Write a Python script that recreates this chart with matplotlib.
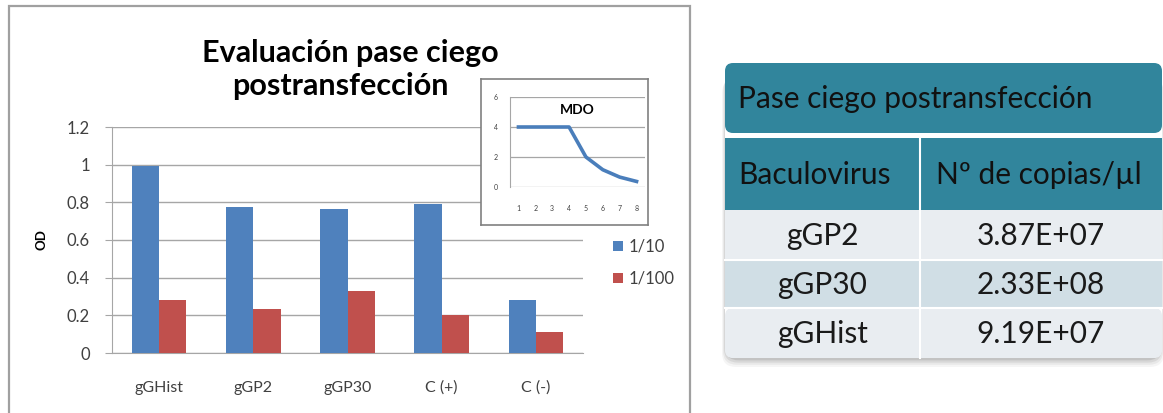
import matplotlib
matplotlib.use("Agg")
import matplotlib.pyplot as plt
import numpy as np
from matplotlib.patches import Rectangle, FancyBboxPatch

plt.rcParams['font.family'] = ['Lato', 'DejaVu Sans']

# ---- data ----
categories = ["gGHist", "gGP2", "gGP30", "C (+)", "C (-)"]
od_1_10 = [0.995, 0.777, 0.763, 0.79, 0.284]
od_1_100 = [0.284, 0.231, 0.329, 0.203, 0.111]

mdo_x = [1, 2, 3, 4, 5, 6, 7, 8]
mdo_y = [4, 4, 4, 4, 2, 1.15, 0.66, 0.37]

title_lines = ["Evaluación pase ciego", "postransfección"]

table_title = "Pase ciego postransfección"
col_headers = ["Baculovirus", "Nº de copias/µl"]
baculovirus = ["gGP2", "gGP30", "gGHist"]
copias = ["3.87E+07", "2.33E+08", "9.19E+07"]

W, H = 1163, 413
fig = plt.figure(figsize=(W / 100, H / 100), dpi=100)


def fbox(x0, y0, x1, y1):
    # pixel box (top-left origin) -> figure fraction rect
    return [x0 / W, 1 - y1 / H, (x1 - x0) / W, (y1 - y0) / H]


""" Main bar chart """
ax = fig.add_axes(fbox(112, 127, 583, 353))
x = np.arange(len(categories))
w = 0.29
b1 = ax.bar(x - w / 2, od_1_10, w, color="#4F81BD", label="1/10", zorder=3)
b2 = ax.bar(x + w / 2, od_1_100, w, color="#C0504D", label="1/100", zorder=3)
ax.set_xlim(-0.5, len(categories) - 0.5)
ax.set_ylim(0, 1.2)
ax.set_yticks([0, 0.2, 0.4, 0.6, 0.8, 1, 1.2])
ax.set_yticklabels(["0", "0.2", "0.4", "0.6", "0.8", "1", "1.2"])
ax.set_xticks(x)
ax.set_xticklabels(categories)
ax.yaxis.grid(True, color="#A6A6A6", linewidth=1.0, zorder=0)
for s in ["top", "right"]:
    ax.spines[s].set_visible(False)
ax.spines["left"].set_color("#A6A6A6")
ax.spines["bottom"].set_color("#A6A6A6")
ax.tick_params(axis="y", length=5, color="#A6A6A6", labelsize=12,
               labelcolor="#404040", pad=11)
ax.tick_params(axis="x", length=0, labelsize=11.5, labelcolor="#404040", pad=20)
ax.set_ylabel("OD", fontsize=9.5, fontweight="bold", labelpad=14)

# title, one text per line
fig.text(350 / W, 1 - 53 / H, title_lines[0], ha="center", va="center",
         fontsize=22, fontweight="bold")
fig.text(340 / W, 1 - 86 / H, title_lines[1], ha="center", va="center",
         fontsize=22, fontweight="bold")

fig.legend(handles=[b1, b2], labels=["1/10", "1/100"], loc="upper left",
           bbox_to_anchor=(598 / W, 1 - 224 / H), frameon=False,
           fontsize=12, handlelength=0.6, handleheight=0.6,
           handletextpad=0.35, labelspacing=0.95, labelcolor="#404040")

""" Inset MDO chart """
box = fig.add_axes(fbox(481, 79, 648, 225))
box.set_xticks([])
box.set_yticks([])
for s in box.spines.values():
    s.set_color("#808080")
    s.set_linewidth(1.2)

ins = fig.add_axes(fbox(510, 97, 645, 187))
ins.plot(mdo_x, mdo_y, color="#4A7EBB", linewidth=2.6, zorder=3)
ins.set_xlim(0.5, 8.5)
ins.set_ylim(0, 6)
ins.set_yticks([0, 2, 4, 6])
ins.set_xticks(mdo_x)
ins.yaxis.grid(True, color="#A6A6A6", linewidth=0.9)
for s in ["top", "right", "bottom"]:
    ins.spines[s].set_visible(False)
ins.spines["left"].set_color("#A6A6A6")
ins.tick_params(length=0, labelsize=5, labelcolor="#404040")
ins.tick_params(axis="y", pad=9)
ins.tick_params(axis="x", pad=13)
ins.text(0.5, 0.85, "MDO", transform=ins.transAxes, ha="center", va="center",
         fontsize=10, fontweight="bold")

# chart frame
fig.add_artist(Rectangle((9 / W, -0.05), (690 - 9) / W, 1 - 6 / H + 0.05,
                         transform=fig.transFigure, fill=False,
                         edgecolor="#A0A0A0", linewidth=1.6))

""" Table """
tab = fig.add_axes([0, 0, 1, 1], zorder=5)
tab.set_xlim(0, W)
tab.set_ylim(H, 0)
tab.axis("off")
tab.patch.set_visible(False)

L, R = 725, 1162
teal = "#31859C"
# shadow
for i, a in enumerate([0.04, 0.05, 0.07, 0.09]):
    off = 9 - 2.2 * i
    tab.add_patch(FancyBboxPatch((L - 3 + i, 70 + off), R - L + 5 - 2 * i,
                                 358 - 70, boxstyle="round,pad=0,rounding_size=14",
                                 facecolor="black", alpha=a, edgecolor="none"))
tab.add_patch(FancyBboxPatch((L, 63), R - L, 358 - 63,
                             boxstyle="round,pad=0,rounding_size=10",
                             facecolor="white", edgecolor="none"))
tab.add_patch(FancyBboxPatch((L, 63), R - L, 70,
                             boxstyle="round,pad=0,rounding_size=8",
                             facecolor=teal, edgecolor="none"))
tab.add_patch(Rectangle((L, 138), R - L, 72, facecolor=teal, edgecolor="none"))
row_colors = ["#E9EDF1", "#D0DEE5", "#E9EDF1"]
row_edges = [210, 260, 308, 358]
for i in range(len(baculovirus)):
    top, bot = row_edges[i], row_edges[i + 1]
    tab.add_patch(FancyBboxPatch((L, top), R - L, bot - top,
                                 boxstyle="round,pad=0,rounding_size=%d" % (8 if i == 2 else 0),
                                 facecolor=row_colors[i], edgecolor="none"))
    if i < 2:
        tab.plot([L, R], [bot, bot], color="white", linewidth=1.5)
    tab.text((L + 920) / 2, (top + bot) / 2 + 1, baculovirus[i], ha="center",
             va="center", fontsize=21.5, color="#1a1a1a")
    tab.text((920 + R) / 2, (top + bot) / 2 + 1, copias[i], ha="center",
             va="center", fontsize=21.5, color="#1a1a1a")
tab.plot([920, 920], [138, 358], color="white", linewidth=1.5)
tab.text(738, 99, table_title, ha="left", va="center", fontsize=21.5,
         color="#111111")
tab.text(738, 175, col_headers[0], ha="left", va="center", fontsize=21.5,
         color="#111111")
tab.text(1039, 175, col_headers[1], ha="center", va="center", fontsize=21.5,
         color="#111111")

fig.savefig("out.png", dpi=100)
